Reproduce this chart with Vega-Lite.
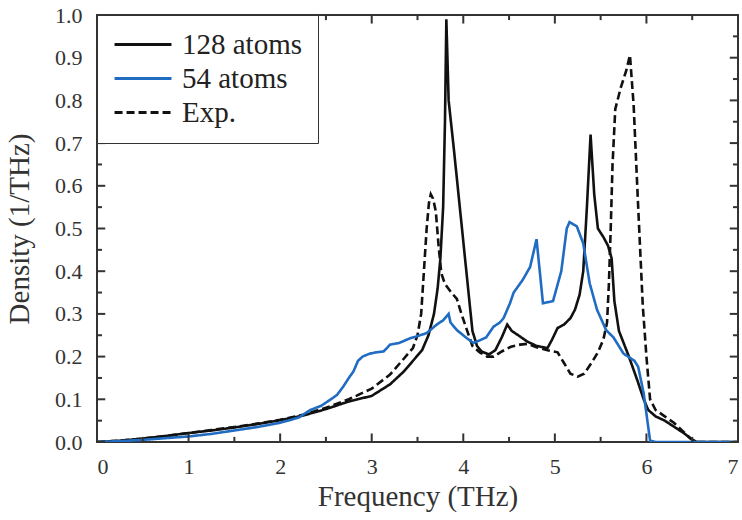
{
  "$schema": "https://vega.github.io/schema/vega-lite/v6.json",
  "width": 641,
  "height": 427,
  "autosize": {"type": "none"},
  "padding": {"left": 97, "top": 15, "right": 4, "bottom": 78},
  "background": "white",
  "config": {
    "view": {"stroke": "#333", "strokeWidth": 2},
    "font": "Liberation Serif",
    "axis": {"labelFont": "Liberation Serif", "titleFont": "Liberation Serif", "labelColor": "#333", "titleColor": "#333", "titleFontWeight": "normal", "grid": false, "domain": false, "ticks": false, "zindex": 1}
  },
  "datasets": {
    "xt": [
      {"v": 0, "kind": "major"}, {"v": 0.5, "kind": "minor"}, {"v": 1, "kind": "major"}, {"v": 1.5, "kind": "minor"}, {"v": 2, "kind": "major"}, {"v": 2.5, "kind": "minor"}, {"v": 3, "kind": "major"}, {"v": 3.5, "kind": "minor"}, {"v": 4, "kind": "major"}, {"v": 4.5, "kind": "minor"}, {"v": 5, "kind": "major"}, {"v": 5.5, "kind": "minor"}, {"v": 6, "kind": "major"}, {"v": 6.5, "kind": "minor"}, {"v": 7, "kind": "major"}
    ],
    "yt": [
      {"v": 0, "kind": "major"}, {"v": 0.05, "kind": "minor"}, {"v": 0.1, "kind": "major"}, {"v": 0.15, "kind": "minor"}, {"v": 0.2, "kind": "major"}, {"v": 0.25, "kind": "minor"}, {"v": 0.3, "kind": "major"}, {"v": 0.35, "kind": "minor"}, {"v": 0.4, "kind": "major"}, {"v": 0.45, "kind": "minor"}, {"v": 0.5, "kind": "major"}, {"v": 0.55, "kind": "minor"}, {"v": 0.6, "kind": "major"}, {"v": 0.65, "kind": "minor"}, {"v": 0.7, "kind": "major"}, {"v": 0.75, "kind": "minor"}, {"v": 0.8, "kind": "major"}, {"v": 0.85, "kind": "minor"}, {"v": 0.9, "kind": "major"}, {"v": 0.95, "kind": "minor"}, {"v": 1.0, "kind": "major"}
    ],
    "dos": [
      {"series": "128 atoms", "f": 0, "d": 0}, {"series": "128 atoms", "f": 0.25, "d": 0.003}, {"series": "128 atoms", "f": 0.5, "d": 0.008}, {"series": "128 atoms", "f": 0.75, "d": 0.014}, {"series": "128 atoms", "f": 1.0, "d": 0.021}, {"series": "128 atoms", "f": 1.25, "d": 0.027}, {"series": "128 atoms", "f": 1.5, "d": 0.034}, {"series": "128 atoms", "f": 1.75, "d": 0.042}, {"series": "128 atoms", "f": 2.0, "d": 0.051}, {"series": "128 atoms", "f": 2.25, "d": 0.062}, {"series": "128 atoms", "f": 2.5, "d": 0.077}, {"series": "128 atoms", "f": 2.75, "d": 0.095}, {"series": "128 atoms", "f": 3.0, "d": 0.108}, {"series": "128 atoms", "f": 3.2, "d": 0.135}, {"series": "128 atoms", "f": 3.35, "d": 0.165}, {"series": "128 atoms", "f": 3.45, "d": 0.19}, {"series": "128 atoms", "f": 3.55, "d": 0.215}, {"series": "128 atoms", "f": 3.62, "d": 0.25}, {"series": "128 atoms", "f": 3.68, "d": 0.3}, {"series": "128 atoms", "f": 3.72, "d": 0.36}, {"series": "128 atoms", "f": 3.75, "d": 0.43}, {"series": "128 atoms", "f": 3.78, "d": 0.55}, {"series": "128 atoms", "f": 3.8, "d": 0.75}, {"series": "128 atoms", "f": 3.815, "d": 0.99}, {"series": "128 atoms", "f": 3.84, "d": 0.8}, {"series": "128 atoms", "f": 3.9, "d": 0.68}, {"series": "128 atoms", "f": 4.0, "d": 0.47}, {"series": "128 atoms", "f": 4.1, "d": 0.26}, {"series": "128 atoms", "f": 4.15, "d": 0.225}, {"series": "128 atoms", "f": 4.2, "d": 0.212}, {"series": "128 atoms", "f": 4.28, "d": 0.205}, {"series": "128 atoms", "f": 4.35, "d": 0.215}, {"series": "128 atoms", "f": 4.42, "d": 0.245}, {"series": "128 atoms", "f": 4.48, "d": 0.275}, {"series": "128 atoms", "f": 4.53, "d": 0.26}, {"series": "128 atoms", "f": 4.6, "d": 0.25}, {"series": "128 atoms", "f": 4.7, "d": 0.235}, {"series": "128 atoms", "f": 4.8, "d": 0.225}, {"series": "128 atoms", "f": 4.92, "d": 0.22}, {"series": "128 atoms", "f": 4.97, "d": 0.24}, {"series": "128 atoms", "f": 5.03, "d": 0.267}, {"series": "128 atoms", "f": 5.1, "d": 0.275}, {"series": "128 atoms", "f": 5.17, "d": 0.29}, {"series": "128 atoms", "f": 5.22, "d": 0.31}, {"series": "128 atoms", "f": 5.27, "d": 0.345}, {"series": "128 atoms", "f": 5.31, "d": 0.4}, {"series": "128 atoms", "f": 5.35, "d": 0.55}, {"series": "128 atoms", "f": 5.39, "d": 0.72}, {"series": "128 atoms", "f": 5.43, "d": 0.58}, {"series": "128 atoms", "f": 5.47, "d": 0.5}, {"series": "128 atoms", "f": 5.53, "d": 0.48}, {"series": "128 atoms", "f": 5.58, "d": 0.46}, {"series": "128 atoms", "f": 5.62, "d": 0.43}, {"series": "128 atoms", "f": 5.65, "d": 0.33}, {"series": "128 atoms", "f": 5.7, "d": 0.26}, {"series": "128 atoms", "f": 5.8, "d": 0.205}, {"series": "128 atoms", "f": 5.9, "d": 0.145}, {"series": "128 atoms", "f": 5.97, "d": 0.1}, {"series": "128 atoms", "f": 6.02, "d": 0.075}, {"series": "128 atoms", "f": 6.1, "d": 0.06}, {"series": "128 atoms", "f": 6.2, "d": 0.05}, {"series": "128 atoms", "f": 6.3, "d": 0.036}, {"series": "128 atoms", "f": 6.4, "d": 0.022}, {"series": "128 atoms", "f": 6.5, "d": 0.006}, {"series": "128 atoms", "f": 6.55, "d": 0}, {"series": "128 atoms", "f": 7.0, "d": 0},

      {"series": "Exp.", "f": 0, "d": 0}, {"series": "Exp.", "f": 0.25, "d": 0.003}, {"series": "Exp.", "f": 0.5, "d": 0.008}, {"series": "Exp.", "f": 0.75, "d": 0.014}, {"series": "Exp.", "f": 1.0, "d": 0.021}, {"series": "Exp.", "f": 1.25, "d": 0.028}, {"series": "Exp.", "f": 1.5, "d": 0.035}, {"series": "Exp.", "f": 1.75, "d": 0.043}, {"series": "Exp.", "f": 2.0, "d": 0.052}, {"series": "Exp.", "f": 2.25, "d": 0.064}, {"series": "Exp.", "f": 2.5, "d": 0.08}, {"series": "Exp.", "f": 2.75, "d": 0.1}, {"series": "Exp.", "f": 3.0, "d": 0.125}, {"series": "Exp.", "f": 3.2, "d": 0.158}, {"series": "Exp.", "f": 3.35, "d": 0.195}, {"series": "Exp.", "f": 3.45, "d": 0.22}, {"series": "Exp.", "f": 3.5, "d": 0.25}, {"series": "Exp.", "f": 3.54, "d": 0.3}, {"series": "Exp.", "f": 3.57, "d": 0.4}, {"series": "Exp.", "f": 3.6, "d": 0.5}, {"series": "Exp.", "f": 3.625, "d": 0.56}, {"series": "Exp.", "f": 3.645, "d": 0.58}, {"series": "Exp.", "f": 3.67, "d": 0.57}, {"series": "Exp.", "f": 3.7, "d": 0.54}, {"series": "Exp.", "f": 3.73, "d": 0.46}, {"series": "Exp.", "f": 3.76, "d": 0.395}, {"series": "Exp.", "f": 3.8, "d": 0.37}, {"series": "Exp.", "f": 3.87, "d": 0.35}, {"series": "Exp.", "f": 3.93, "d": 0.335}, {"series": "Exp.", "f": 3.98, "d": 0.3}, {"series": "Exp.", "f": 4.04, "d": 0.262}, {"series": "Exp.", "f": 4.1, "d": 0.225}, {"series": "Exp.", "f": 4.18, "d": 0.21}, {"series": "Exp.", "f": 4.26, "d": 0.2}, {"series": "Exp.", "f": 4.33, "d": 0.2}, {"series": "Exp.", "f": 4.42, "d": 0.212}, {"series": "Exp.", "f": 4.52, "d": 0.223}, {"series": "Exp.", "f": 4.62, "d": 0.228}, {"series": "Exp.", "f": 4.7, "d": 0.23}, {"series": "Exp.", "f": 4.8, "d": 0.222}, {"series": "Exp.", "f": 4.92, "d": 0.215}, {"series": "Exp.", "f": 5.03, "d": 0.21}, {"series": "Exp.", "f": 5.1, "d": 0.185}, {"series": "Exp.", "f": 5.17, "d": 0.16}, {"series": "Exp.", "f": 5.25, "d": 0.153}, {"series": "Exp.", "f": 5.32, "d": 0.16}, {"series": "Exp.", "f": 5.4, "d": 0.185}, {"series": "Exp.", "f": 5.47, "d": 0.21}, {"series": "Exp.", "f": 5.53, "d": 0.24}, {"series": "Exp.", "f": 5.57, "d": 0.28}, {"series": "Exp.", "f": 5.59, "d": 0.37}, {"series": "Exp.", "f": 5.61, "d": 0.5}, {"series": "Exp.", "f": 5.63, "d": 0.65}, {"series": "Exp.", "f": 5.66, "d": 0.78}, {"series": "Exp.", "f": 5.72, "d": 0.83}, {"series": "Exp.", "f": 5.78, "d": 0.87}, {"series": "Exp.", "f": 5.82, "d": 0.906}, {"series": "Exp.", "f": 5.86, "d": 0.79}, {"series": "Exp.", "f": 5.91, "d": 0.55}, {"series": "Exp.", "f": 5.96, "d": 0.32}, {"series": "Exp.", "f": 6.0, "d": 0.2}, {"series": "Exp.", "f": 6.04, "d": 0.1}, {"series": "Exp.", "f": 6.1, "d": 0.075}, {"series": "Exp.", "f": 6.2, "d": 0.06}, {"series": "Exp.", "f": 6.3, "d": 0.045}, {"series": "Exp.", "f": 6.4, "d": 0.025}, {"series": "Exp.", "f": 6.47, "d": 0.01}, {"series": "Exp.", "f": 6.53, "d": 0}, {"series": "Exp.", "f": 7.0, "d": 0},

      {"series": "54 atoms", "f": 0, "d": 0}, {"series": "54 atoms", "f": 0.25, "d": 0.002}, {"series": "54 atoms", "f": 0.5, "d": 0.005}, {"series": "54 atoms", "f": 0.75, "d": 0.009}, {"series": "54 atoms", "f": 1.0, "d": 0.013}, {"series": "54 atoms", "f": 1.25, "d": 0.019}, {"series": "54 atoms", "f": 1.5, "d": 0.027}, {"series": "54 atoms", "f": 1.75, "d": 0.035}, {"series": "54 atoms", "f": 2.0, "d": 0.045}, {"series": "54 atoms", "f": 2.2, "d": 0.057}, {"series": "54 atoms", "f": 2.33, "d": 0.075}, {"series": "54 atoms", "f": 2.45, "d": 0.085}, {"series": "54 atoms", "f": 2.54, "d": 0.098}, {"series": "54 atoms", "f": 2.62, "d": 0.11}, {"series": "54 atoms", "f": 2.69, "d": 0.13}, {"series": "54 atoms", "f": 2.75, "d": 0.15}, {"series": "54 atoms", "f": 2.8, "d": 0.165}, {"series": "54 atoms", "f": 2.85, "d": 0.19}, {"series": "54 atoms", "f": 2.9, "d": 0.2}, {"series": "54 atoms", "f": 2.98, "d": 0.207}, {"series": "54 atoms", "f": 3.05, "d": 0.21}, {"series": "54 atoms", "f": 3.13, "d": 0.212}, {"series": "54 atoms", "f": 3.2, "d": 0.228}, {"series": "54 atoms", "f": 3.3, "d": 0.232}, {"series": "54 atoms", "f": 3.42, "d": 0.243}, {"series": "54 atoms", "f": 3.5, "d": 0.248}, {"series": "54 atoms", "f": 3.6, "d": 0.255}, {"series": "54 atoms", "f": 3.71, "d": 0.275}, {"series": "54 atoms", "f": 3.78, "d": 0.285}, {"series": "54 atoms", "f": 3.84, "d": 0.3}, {"series": "54 atoms", "f": 3.86, "d": 0.28}, {"series": "54 atoms", "f": 3.93, "d": 0.262}, {"series": "54 atoms", "f": 4.04, "d": 0.243}, {"series": "54 atoms", "f": 4.11, "d": 0.232}, {"series": "54 atoms", "f": 4.18, "d": 0.238}, {"series": "54 atoms", "f": 4.25, "d": 0.245}, {"series": "54 atoms", "f": 4.33, "d": 0.27}, {"series": "54 atoms", "f": 4.4, "d": 0.28}, {"series": "54 atoms", "f": 4.44, "d": 0.29}, {"series": "54 atoms", "f": 4.51, "d": 0.325}, {"series": "54 atoms", "f": 4.55, "d": 0.35}, {"series": "54 atoms", "f": 4.65, "d": 0.38}, {"series": "54 atoms", "f": 4.73, "d": 0.41}, {"series": "54 atoms", "f": 4.8, "d": 0.475}, {"series": "54 atoms", "f": 4.87, "d": 0.325}, {"series": "54 atoms", "f": 4.98, "d": 0.33}, {"series": "54 atoms", "f": 5.07, "d": 0.4}, {"series": "54 atoms", "f": 5.13, "d": 0.5}, {"series": "54 atoms", "f": 5.16, "d": 0.515}, {"series": "54 atoms", "f": 5.24, "d": 0.505}, {"series": "54 atoms", "f": 5.31, "d": 0.465}, {"series": "54 atoms", "f": 5.38, "d": 0.372}, {"series": "54 atoms", "f": 5.46, "d": 0.31}, {"series": "54 atoms", "f": 5.56, "d": 0.262}, {"series": "54 atoms", "f": 5.64, "d": 0.245}, {"series": "54 atoms", "f": 5.75, "d": 0.207}, {"series": "54 atoms", "f": 5.87, "d": 0.19}, {"series": "54 atoms", "f": 5.91, "d": 0.176}, {"series": "54 atoms", "f": 5.97, "d": 0.114}, {"series": "54 atoms", "f": 6.04, "d": 0.003}, {"series": "54 atoms", "f": 6.1, "d": 0}, {"series": "54 atoms", "f": 7.0, "d": 0}
    ]
  },
  "resolve": {"axis": {"x": "independent", "y": "independent"}},
  "layer": [
    {
      "data": {"name": "dos"},
      "mark": {"type": "line", "strokeWidth": 2.6, "clip": true},
      "encoding": {
        "x": {"field": "f", "type": "quantitative", "scale": {"domain": [0, 7], "nice": false},
          "axis": {"orient": "bottom", "title": "Frequency (THz)", "titleFontSize": 29, "labelFontSize": 22, "titlePadding": 5, "labelPadding": 14,
            "values": [0, 1, 2, 3, 4, 5, 6, 7], "format": "d"}},
        "y": {"field": "d", "type": "quantitative", "scale": {"domain": [0, 1], "nice": false},
          "axis": {"orient": "left", "title": "Density (1/THz)", "titleFontSize": 29, "labelFontSize": 22, "titlePadding": 20, "labelPadding": 15,
            "values": [0, 0.1, 0.2, 0.3, 0.4, 0.5, 0.6, 0.7, 0.8, 0.9, 1.0], "format": ".1f"}},
        "color": {"field": "series", "type": "nominal",
          "scale": {"domain": ["128 atoms", "54 atoms", "Exp."], "range": ["#111111", "#1f6cc2", "#111111"]},
          "legend": {"orient": "top-left", "offset": 0, "title": null, "strokeColor": "#333", "fillColor": "white", "padding": 15,
            "labelFont": "Liberation Serif", "labelFontSize": 29, "labelColor": "#222", "labelOffset": 41,
            "symbolType": "M-0.92,0H3.46", "symbolSize": 676, "symbolStrokeWidth": 3, "rowPadding": 4, "cornerRadius": 0, "zindex": 2}},
        "strokeDash": {"field": "series", "type": "nominal",
          "scale": {"domain": ["128 atoms", "54 atoms", "Exp."], "range": [[1, 0], [1, 0], [8, 4]]},
          "legend": {"orient": "top-left", "title": null}},
        "order": {"field": "f", "type": "quantitative"}
      }
    },
    {
      "data": {"name": "xt"},
      "transform": [{"filter": "datum.kind === 'major'"}],
      "mark": {"type": "rule", "color": "#333", "strokeWidth": 2},
      "encoding": {
        "x": {"field": "v", "type": "quantitative", "axis": null},
        "y": {"datum": 0, "type": "quantitative", "axis": null},
        "y2": {"datum": 0.02}
      }
    },
    {
      "data": {"name": "xt"},
      "transform": [{"filter": "datum.kind === 'major'"}],
      "mark": {"type": "rule", "color": "#333", "strokeWidth": 2},
      "encoding": {
        "x": {"field": "v", "type": "quantitative", "axis": null},
        "y": {"datum": 1, "type": "quantitative", "axis": null},
        "y2": {"datum": 0.98}
      }
    },
    {
      "data": {"name": "xt"},
      "transform": [{"filter": "datum.kind === 'minor'"}],
      "mark": {"type": "rule", "color": "#333", "strokeWidth": 2},
      "encoding": {
        "x": {"field": "v", "type": "quantitative", "axis": null},
        "y": {"datum": 0, "type": "quantitative", "axis": null},
        "y2": {"datum": 0.012}
      }
    },
    {
      "data": {"name": "xt"},
      "transform": [{"filter": "datum.kind === 'minor'"}],
      "mark": {"type": "rule", "color": "#333", "strokeWidth": 2},
      "encoding": {
        "x": {"field": "v", "type": "quantitative", "axis": null},
        "y": {"datum": 1, "type": "quantitative", "axis": null},
        "y2": {"datum": 0.988}
      }
    },
    {
      "data": {"name": "yt"},
      "transform": [{"filter": "datum.kind === 'major'"}],
      "mark": {"type": "rule", "color": "#333", "strokeWidth": 2},
      "encoding": {
        "y": {"field": "v", "type": "quantitative", "axis": null},
        "x": {"datum": 0, "type": "quantitative", "axis": null},
        "x2": {"datum": 0.09}
      }
    },
    {
      "data": {"name": "yt"},
      "transform": [{"filter": "datum.kind === 'major'"}],
      "mark": {"type": "rule", "color": "#333", "strokeWidth": 2},
      "encoding": {
        "y": {"field": "v", "type": "quantitative", "axis": null},
        "x": {"datum": 7, "type": "quantitative", "axis": null},
        "x2": {"datum": 6.91}
      }
    },
    {
      "data": {"name": "yt"},
      "transform": [{"filter": "datum.kind === 'minor'"}],
      "mark": {"type": "rule", "color": "#333", "strokeWidth": 2},
      "encoding": {
        "y": {"field": "v", "type": "quantitative", "axis": null},
        "x": {"datum": 0, "type": "quantitative", "axis": null},
        "x2": {"datum": 0.055}
      }
    },
    {
      "data": {"name": "yt"},
      "transform": [{"filter": "datum.kind === 'minor'"}],
      "mark": {"type": "rule", "color": "#333", "strokeWidth": 2},
      "encoding": {
        "y": {"field": "v", "type": "quantitative", "axis": null},
        "x": {"datum": 7, "type": "quantitative", "axis": null},
        "x2": {"datum": 6.945}
      }
    }
  ]
}
